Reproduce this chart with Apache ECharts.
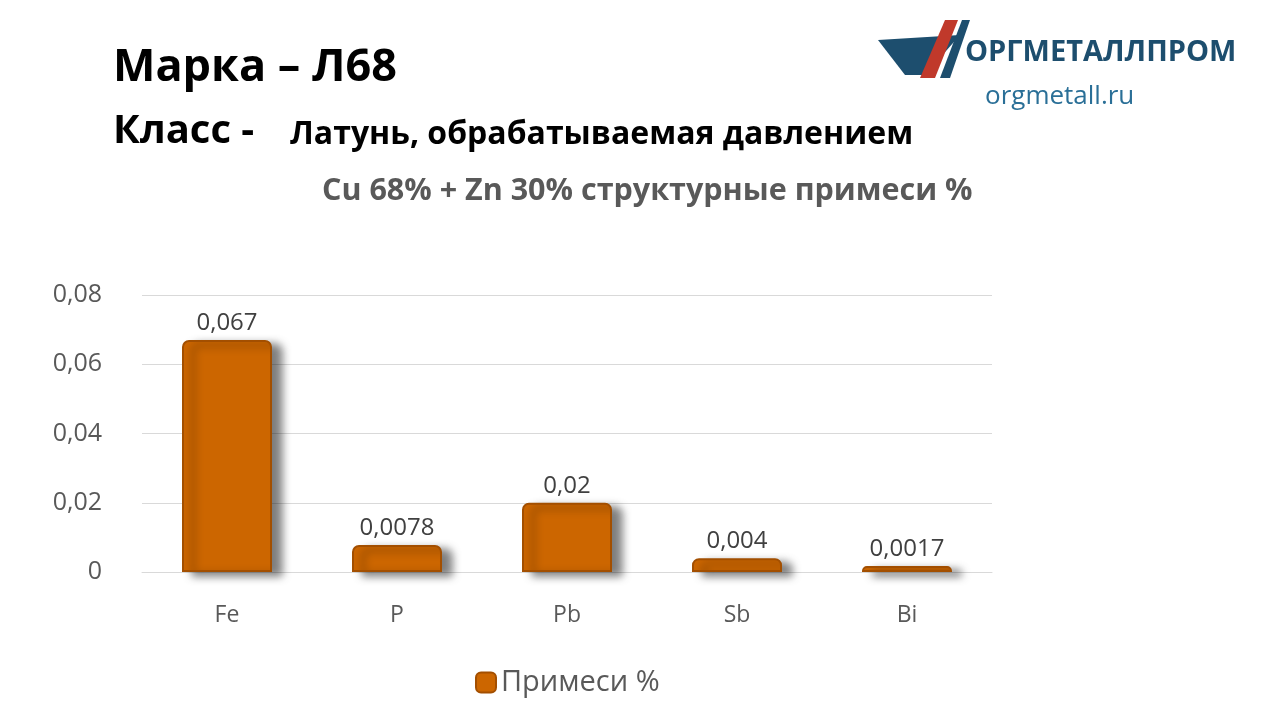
<!DOCTYPE html>
<html><head><meta charset="utf-8">
<script src="https://cdn.jsdelivr.net/npm/echarts@6/dist/echarts.min.js"></script>
<style>body{margin:0}#c{width:1280px;height:720px}</style></head>
<body><div id="c"></div>
<script>
const categories = ['Fe','P','Pb','Sb','Bi'];
const values = [0.067,0.0078,0.02,0.004,0.0017];
const labels = ['0,067','0,0078','0,02','0,004','0,0017'];
const yTicks = ['0','0,02','0,04','0,06','0,08'];
const chart = echarts.init(document.getElementById('c'));
chart.setOption({
  backgroundColor:'#fff',
  graphic:[
    {type:'text',left:113,top:46,style:{text:'Марка – Л68',font:'bold 45px "Open Sans"',fill:'#000'}},
    {type:'text',left:113,top:112,style:{text:'Класс -',font:'bold 40px "Open Sans"',fill:'#000'}},
    {type:'text',left:290,top:119,style:{text:'Латунь, обрабатываемая давлением',font:'bold 32px "Open Sans"',fill:'#000'}},
    {type:'text',left:322,top:176,style:{text:'Cu 68% + Zn 30% структурные примеси %',font:'bold 30.5px "Open Sans"',fill:'#595959'}},
    {type:'text',left:965,top:38,style:{text:'ОРГМЕТАЛЛПРОМ',font:'bold 29px "Open Sans"',fill:'#1d4e6e'}},
    {type:'text',left:985,top:84,style:{text:'orgmetall.ru',font:'26px "Open Sans"',fill:'#2a6f97'}},
    {type:'polygon',shape:{points:[[878,40],[960,35],[925,75],[905,75]]},style:{fill:'#1d4e6e'}},
    {type:'polygon',shape:{points:[[920,78],[945,20],[958,20],[935,78]]},style:{fill:'#c0392b'}},
    {type:'polygon',shape:{points:[[940,78],[962,20],[970,20],[950,78]]},style:{fill:'#1d4e6e'}}
  ],
  grid:{left:142,right:288,top:295,bottom:148},
  xAxis:{type:'category',data:categories,axisTick:{show:false},
    axisLine:{lineStyle:{color:'#d9d9d9'}},
    axisLabel:{fontSize:23,color:'#595959',margin:32,fontFamily:'Open Sans'}},
  yAxis:{type:'value',min:0,max:0.08,interval:0.02,
    axisLabel:{fontSize:25,color:'#595959',margin:40,fontFamily:'Open Sans',
      formatter:v=>yTicks[Math.round(v/0.02)]},
    splitLine:{lineStyle:{color:'#d9d9d9'}}},
  legend:{bottom:18,left:470,itemWidth:20,itemHeight:20,
    textStyle:{fontSize:29,color:'#595959',fontFamily:'Open Sans'}},
  series:[{name:'Примеси %',type:'bar',data:values,barWidth:90,
    itemStyle:{color:'#cc6600',borderColor:'#a34f00',borderWidth:2,borderRadius:[6,6,0,0],
      shadowColor:'rgba(0,0,0,0.5)',shadowBlur:8,shadowOffsetX:10,shadowOffsetY:4},
    label:{show:true,position:'top',fontSize:24,color:'#404040',fontFamily:'Open Sans',
      formatter:p=>labels[p.dataIndex]}}]
});
</script></body></html>
